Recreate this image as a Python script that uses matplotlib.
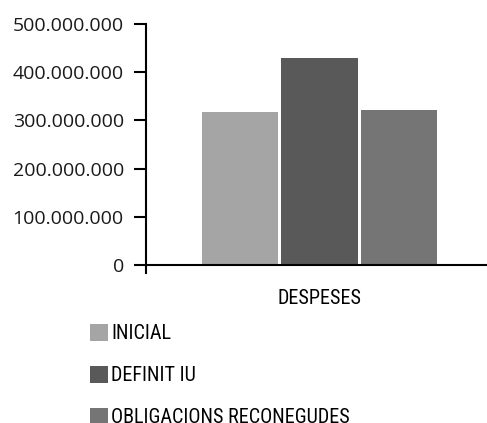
import matplotlib.pyplot as plt
from matplotlib.ticker import FuncFormatter

plt.rcParams["font.family"] = ["Open Sans", "DejaVu Sans"]

# dades
categoria = "DESPESES"
series = ["INICIAL", "DEFINIT IU", "OBLIGACIONS RECONEGUDES"]
valors = [317000000, 429000000, 322000000]
colors = ["#A5A5A5", "#595959", "#757575"]
yticks = [0, 100000000, 200000000, 300000000, 400000000, 500000000]

estret = ["Roboto Condensed", "DejaVu Sans"]

fig = plt.figure(figsize=(4.87, 4.23), dpi=100)
ax = fig.add_axes([146 / 487, 1 - 265 / 423, 341 / 487, 241 / 423])

amplada = 0.224
pas = 0.233
offsets = [-pas + 0.009, 0.009, pas + 0.009]
barres = []
for i, (nom, v, c) in enumerate(zip(series, valors, colors)):
    b = ax.bar(offsets[i], v, width=amplada, color=c, label=nom)
    barres.append(b)

ax.set_xlim(-0.5, 0.5)
ax.set_ylim(0, 500000000)
ax.set_yticks(yticks)
ax.yaxis.set_major_formatter(FuncFormatter(lambda v, p: f"{int(v):,}".replace(",", ".")))
ax.set_xticks([0.009])
ax.set_xticklabels([categoria], fontfamily=estret, fontsize=14.5, fontweight="normal")
ax.tick_params(axis="x", length=0, pad=17)
ax.tick_params(axis="y", length=9, width=1.5, pad=7, labelsize=14, labelcolor="#1a1a1a")

for s in ["top", "right"]:
    ax.spines[s].set_visible(False)
ax.spines["left"].set_linewidth(1.5)
ax.spines["bottom"].set_linewidth(1.5)
ax.spines["left"].set_bounds(-17000000, 500000000)

fig.legend(handles=barres, labels=series, loc="upper left",
           bbox_to_anchor=(90 / 487, 1 - 324 / 423), frameon=False,
           prop={"family": estret, "size": 14.5, "weight": "normal"},
           handlelength=0.9, handleheight=0.9, handletextpad=0.15,
           labelspacing=1.13, borderaxespad=0, borderpad=0)

fig.savefig("out.png", dpi=100)
